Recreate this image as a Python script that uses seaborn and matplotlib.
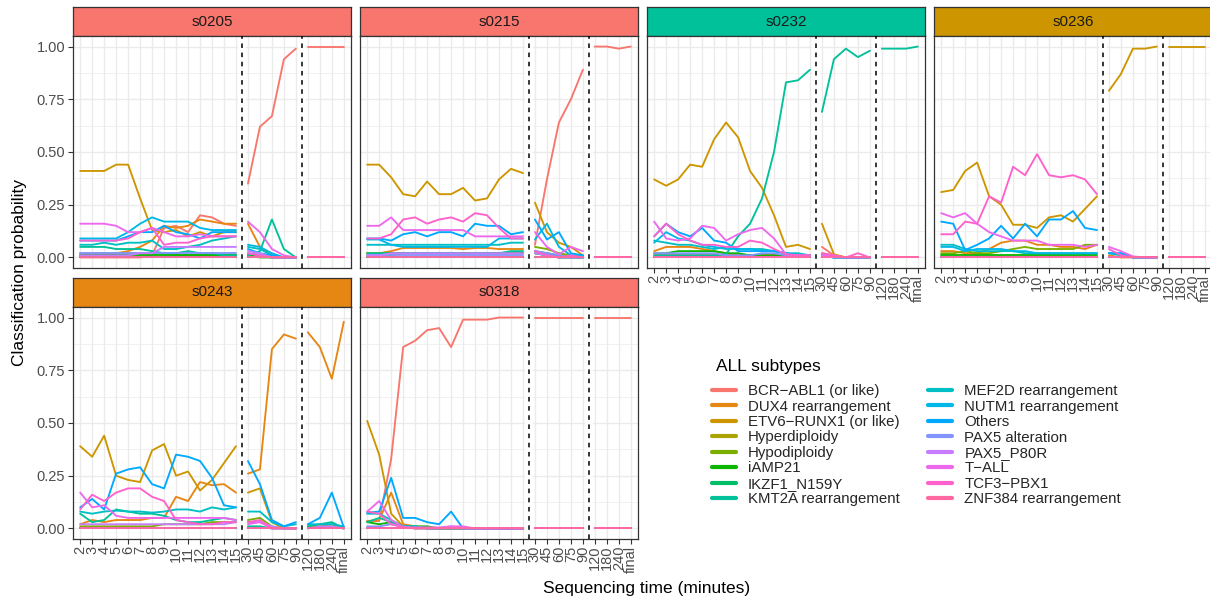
import math
import pandas as pd
import seaborn as sns
import matplotlib
matplotlib.use("Agg")
import matplotlib.pyplot as plt
from matplotlib.lines import Line2D


# data                ----------------------------------------------------------------
TIMES = ["2", "3", "4", "5", "6", "7", "8", "9", "10", "11", "12", "13", "14", "15",
         "30", "45", "60", "75", "90",
         "120", "180", "240", "final"]
SEGMENT = [0, 0, 0, 0, 0, 0, 0, 0, 0, 0, 0, 0, 0, 0,
           1, 1, 1, 1, 1,
           2, 2, 2, 2]

CODES = ["BCR", "DUX4", "ETV6", "HYPER", "HYPO", "IAMP21", "IKZF1", "KMT2A",
         "MEF2D", "NUTM1", "OTHERS", "PAX5ALT", "P80R", "TALL", "TCF3", "ZNF384"]
LABELS = ["BCR\u2212ABL1 (or like)", "DUX4 rearrangement", "ETV6\u2212RUNX1 (or like)",
          "Hyperdiploidy", "Hypodiploidy", "iAMP21", "IKZF1_N159Y", "KMT2A rearrangement",
          "MEF2D rearrangement", "NUTM1 rearrangement", "Others", "PAX5 alteration",
          "PAX5_P80R", "T\u2212ALL", "TCF3\u2212PBX1", "ZNF384 rearrangement"]

SAMPLES = ["s0205", "s0215", "s0232", "s0236", "s0243", "s0318"]
FINAL_CALL = ["BCR", "BCR", "KMT2A", "ETV6", "DUX4", "BCR"]

ZEROS = [0, 0, 0, 0, 0, 0, 0, 0, 0, 0, 0, 0, 0, 0, 0, 0, 0, 0, 0, 0, 0, 0, 0]

s0205 = {
    "BCR":    [0, 0, 0, 0, 0, 0, 0.01, 0.14, 0.15, 0.12, 0.20, 0.19, 0.16, 0.15, 0.35, 0.62, 0.67, 0.94, 0.99, 1, 1, 1, 1],
    "DUX4":   [0.01, 0.01, 0.01, 0.02, 0.03, 0.05, 0.08, 0.15, 0.14, 0.15, 0.18, 0.17, 0.16, 0.16, 0.16, 0.05, 0.01, 0, 0, 0, 0, 0, 0],
    "ETV6":   [0.41, 0.41, 0.41, 0.44, 0.44, 0.28, 0.13, 0.12, 0.13, 0.10, 0.12, 0.10, 0.12, 0.12, 0.01, 0.01, 0, 0, 0, 0, 0, 0, 0],
    "HYPO":   [0.02, 0.02, 0.02, 0.02, 0.02, 0.02, 0.02, 0.02, 0.01, 0.01, 0.01, 0.01, 0.01, 0.01, 0.01, 0.01, 0, 0, 0, 0, 0, 0, 0],
    "IAMP21": [0.01, 0.01, 0.01, 0.01, 0.01, 0.01, 0.01, 0.01, 0.01, 0.01, 0.01, 0.01, 0.01, 0.01, 0.01, 0, 0, 0, 0, 0, 0, 0, 0],
    "KMT2A":  [0.05, 0.05, 0.05, 0.04, 0.04, 0.04, 0.03, 0.02, 0.02, 0.03, 0.02, 0.02, 0.01, 0.01, 0.01, 0.03, 0.18, 0.04, 0, 0, 0, 0, 0],
    "MEF2D":  [0.06, 0.06, 0.07, 0.06, 0.07, 0.07, 0.08, 0.04, 0.04, 0.05, 0.06, 0.08, 0.09, 0.10, 0.05, 0.04, 0.01, 0, 0, 0, 0, 0, 0],
    "NUTM1":  [0.09, 0.09, 0.09, 0.09, 0.12, 0.16, 0.19, 0.17, 0.17, 0.17, 0.14, 0.13, 0.13, 0.13, 0.06, 0.05, 0.02, 0, 0, 0, 0, 0, 0],
    "OTHERS": [0.08, 0.08, 0.08, 0.08, 0.10, 0.12, 0.12, 0.15, 0.12, 0.11, 0.09, 0.12, 0.12, 0.12, 0.04, 0.02, 0.01, 0, 0, 0, 0, 0, 0],
    "PAX5ALT": [0.02, 0.02, 0.02, 0.02, 0.02, 0.02, 0.02, 0.02, 0.02, 0.02, 0.02, 0.02, 0.02, 0.02, 0.02, 0.01, 0, 0, 0, 0, 0, 0, 0],
    "P80R":   [0.01, 0.01, 0.01, 0.01, 0.01, 0.02, 0.02, 0.05, 0.05, 0.05, 0.05, 0.05, 0.05, 0.05, 0.03, 0.02, 0, 0, 0, 0, 0, 0, 0],
    "TALL":   [0.16, 0.16, 0.16, 0.15, 0.12, 0.12, 0.14, 0.12, 0.10, 0.10, 0.11, 0.10, 0.10, 0.10, 0.17, 0.12, 0.04, 0.01, 0, 0, 0, 0, 0],
    "TCF3":   [0.08, 0.08, 0.08, 0.08, 0.09, 0.12, 0.14, 0.06, 0.07, 0.07, 0.09, 0.10, 0.10, 0.10, 0.02, 0.01, 0, 0, 0, 0, 0, 0, 0],
}

s0215 = {
    "BCR":    [0, 0, 0, 0, 0, 0, 0, 0, 0, 0, 0, 0, 0, 0, 0.06, 0.37, 0.64, 0.75, 0.89, 1.0, 1.0, 0.99, 1.0],
    "DUX4":   [0.02, 0.02, 0.03, 0.045, 0.045, 0.045, 0.045, 0.045, 0.04, 0.045, 0.045, 0.04, 0.04, 0.04, 0.03, 0.02, 0.01, 0.01, 0, 0, 0, 0, 0],
    "ETV6":   [0.44, 0.44, 0.38, 0.30, 0.29, 0.36, 0.30, 0.30, 0.33, 0.27, 0.28, 0.37, 0.42, 0.40, 0.26, 0.12, 0.07, 0.05, 0.01, 0, 0, 0, 0],
    "HYPO":   [0.02, 0.02, 0.02, 0.02, 0.02, 0.02, 0.02, 0.02, 0.02, 0.02, 0.02, 0.02, 0.02, 0.02, 0.05, 0.04, 0.02, 0.01, 0, 0, 0, 0, 0],
    "IAMP21": [0.01, 0.01, 0.01, 0.02, 0.02, 0.02, 0.02, 0.02, 0.02, 0.02, 0.02, 0.02, 0.02, 0.02, 0.02, 0.01, 0, 0, 0, 0, 0, 0, 0],
    "KMT2A":  [0.02, 0.02, 0.02, 0.02, 0.02, 0.02, 0.02, 0.02, 0.02, 0.02, 0.02, 0.02, 0.03, 0.03, 0.02, 0.01, 0, 0, 0, 0, 0, 0, 0],
    "MEF2D":  [0.06, 0.06, 0.06, 0.06, 0.06, 0.06, 0.06, 0.06, 0.06, 0.06, 0.06, 0.06, 0.07, 0.07, 0.03, 0.02, 0.01, 0, 0, 0, 0, 0, 0],
    "NUTM1":  [0.085, 0.085, 0.06, 0.05, 0.05, 0.05, 0.05, 0.05, 0.05, 0.05, 0.05, 0.09, 0.09, 0.09, 0.085, 0.16, 0.05, 0.01, 0.01, 0, 0, 0, 0],
    "OTHERS": [0.09, 0.09, 0.08, 0.11, 0.12, 0.10, 0.12, 0.12, 0.10, 0.16, 0.15, 0.15, 0.11, 0.12, 0.18, 0.085, 0.12, 0.02, 0.01, 0, 0, 0, 0],
    "PAX5ALT": [0.01, 0.01, 0.01, 0.01, 0.01, 0.01, 0.01, 0.01, 0.01, 0.01, 0.01, 0.01, 0.01, 0.01, 0.03, 0.02, 0.01, 0, 0, 0, 0, 0, 0],
    "P80R":   [0.01, 0.01, 0.02, 0.02, 0.02, 0.02, 0.02, 0.02, 0.02, 0.02, 0.02, 0.02, 0.02, 0.02, 0.02, 0.01, 0, 0, 0, 0, 0, 0, 0],
    "TALL":   [0.15, 0.15, 0.19, 0.13, 0.13, 0.13, 0.13, 0.13, 0.13, 0.10, 0.10, 0.10, 0.10, 0.10, 0.12, 0.05, 0.015, 0.05, 0.03, 0, 0, 0, 0],
    "TCF3":   [0.09, 0.09, 0.11, 0.18, 0.19, 0.16, 0.18, 0.19, 0.17, 0.21, 0.20, 0.14, 0.09, 0.09, 0.03, 0.01, 0, 0.01, 0, 0, 0, 0, 0],
}

s0232 = {
    "BCR":    [0.01, 0.01, 0.01, 0.01, 0.01, 0.01, 0.01, 0.01, 0.01, 0.01, 0.01, 0.01, 0.01, 0.01, 0.05, 0.01, 0, 0, 0, 0, 0, 0, 0],
    "DUX4":   [0.03, 0.05, 0.05, 0.05, 0.04, 0.03, 0.02, 0.01, 0.01, 0.01, 0.01, 0.01, 0.01, 0.01, 0.02, 0.01, 0, 0, 0, 0, 0, 0, 0],
    "ETV6":   [0.37, 0.34, 0.37, 0.44, 0.43, 0.56, 0.64, 0.57, 0.41, 0.33, 0.20, 0.05, 0.06, 0.04, 0.16, 0.015, 0, 0, 0, 0, 0, 0, 0],
    "IAMP21": [0.02, 0.02, 0.03, 0.03, 0.03, 0.03, 0.02, 0.02, 0.01, 0.01, 0.01, 0.01, 0.01, 0.01, 0.01, 0, 0, 0, 0, 0, 0, 0, 0],
    "KMT2A":  [0.01, 0.01, 0.01, 0.01, 0.01, 0.01, 0.015, 0.10, 0.16, 0.28, 0.50, 0.83, 0.84, 0.89, 0.69, 0.94, 0.99, 0.95, 0.98, 0.99, 0.99, 0.99, 1.0],
    "MEF2D":  [0.08, 0.07, 0.06, 0.06, 0.05, 0.04, 0.05, 0.04, 0.04, 0.04, 0.03, 0.02, 0.02, 0.01, 0.01, 0, 0, 0, 0, 0, 0, 0, 0],
    "NUTM1":  [0.07, 0.12, 0.09, 0.08, 0.06, 0.05, 0.04, 0.04, 0.04, 0.03, 0.03, 0.02, 0.01, 0.01, 0.01, 0, 0, 0, 0, 0, 0, 0, 0],
    "OTHERS": [0.10, 0.16, 0.12, 0.10, 0.14, 0.08, 0.07, 0.03, 0.03, 0.03, 0.03, 0.02, 0.01, 0.01, 0.01, 0, 0, 0, 0, 0, 0, 0, 0],
    "PAX5ALT": [0.02, 0.02, 0.02, 0.02, 0.02, 0.02, 0.01, 0.01, 0.01, 0.02, 0.02, 0.01, 0.01, 0.01, 0.01, 0, 0, 0, 0, 0, 0, 0, 0],
    "TALL":   [0.17, 0.09, 0.08, 0.09, 0.15, 0.14, 0.08, 0.11, 0.13, 0.14, 0.09, 0.015, 0.01, 0.01, 0.01, 0.01, 0, 0, 0, 0, 0, 0, 0],
    "TCF3":   [0.10, 0.16, 0.11, 0.08, 0.06, 0.06, 0.05, 0.05, 0.08, 0.07, 0.04, 0.015, 0.01, 0.01, 0.02, 0.01, 0, 0.02, 0, 0, 0, 0, 0],
}

s0236 = {
    "DUX4":   [0.03, 0.03, 0.02, 0.02, 0.04, 0.07, 0.08, 0.08, 0.06, 0.06, 0.05, 0.05, 0.04, 0.06, 0.01, 0, 0, 0, 0, 0, 0, 0, 0],
    "ETV6":   [0.31, 0.32, 0.41, 0.45, 0.29, 0.25, 0.155, 0.155, 0.14, 0.19, 0.20, 0.17, 0.23, 0.29, 0.79, 0.87, 0.99, 0.99, 1.0, 1.0, 1.0, 1.0, 1.0],
    "HYPO":   [0.02, 0.02, 0.03, 0.02, 0.02, 0.03, 0.04, 0.05, 0.04, 0.04, 0.04, 0.04, 0.06, 0.06, 0, 0, 0, 0, 0, 0, 0, 0, 0],
    "IAMP21": [0.01, 0.01, 0.01, 0.01, 0.01, 0.01, 0.01, 0.01, 0.01, 0.01, 0.01, 0.01, 0.01, 0.01, 0, 0, 0, 0, 0, 0, 0, 0, 0],
    "MEF2D":  [0.06, 0.06, 0.04, 0.03, 0.03, 0.03, 0.03, 0.02, 0.02, 0.02, 0.02, 0.02, 0.02, 0.02, 0.02, 0.01, 0, 0, 0, 0, 0, 0, 0],
    "NUTM1":  [0.05, 0.05, 0.03, 0.04, 0.04, 0.04, 0.03, 0.03, 0.02, 0.02, 0.02, 0.02, 0.02, 0.02, 0.02, 0.02, 0, 0, 0, 0, 0, 0, 0],
    "OTHERS": [0.17, 0.16, 0.035, 0.06, 0.09, 0.15, 0.09, 0.16, 0.10, 0.18, 0.18, 0.22, 0.14, 0.13, 0.02, 0.02, 0, 0, 0, 0, 0, 0, 0],
    "TALL":   [0.21, 0.19, 0.21, 0.16, 0.12, 0.10, 0.08, 0.08, 0.08, 0.06, 0.06, 0.06, 0.05, 0.06, 0.05, 0.03, 0.005, 0, 0, 0, 0, 0, 0],
    "TCF3":   [0.11, 0.11, 0.17, 0.16, 0.29, 0.26, 0.43, 0.39, 0.49, 0.39, 0.38, 0.39, 0.37, 0.30, 0.04, 0.01, 0, 0, 0, 0, 0, 0, 0],
}

s0243 = {
    "DUX4":   [0.02, 0.04, 0.03, 0.04, 0.04, 0.04, 0.05, 0.05, 0.15, 0.13, 0.22, 0.205, 0.21, 0.17, 0.26, 0.28, 0.85, 0.92, 0.90, 0.93, 0.86, 0.71, 0.98],
    "ETV6":   [0.39, 0.34, 0.44, 0.25, 0.23, 0.22, 0.37, 0.40, 0.25, 0.27, 0.18, 0.23, 0.31, 0.39, 0.17, 0.19, 0.03, 0, 0, 0.01, 0.01, 0.01, 0],
    "HYPO":   [0.01, 0.01, 0.01, 0.01, 0.01, 0.01, 0.01, 0.02, 0.02, 0.02, 0.02, 0.03, 0.03, 0.03, 0.04, 0.05, 0.01, 0, 0, 0.01, 0.01, 0.02, 0],
    "KMT2A":  [0.07, 0.03, 0.04, 0.09, 0.08, 0.07, 0.07, 0.06, 0.04, 0.03, 0.03, 0.04, 0.05, 0.04, 0.01, 0.01, 0, 0, 0, 0.01, 0.02, 0.03, 0],
    "MEF2D":  [0.08, 0.07, 0.08, 0.085, 0.08, 0.08, 0.075, 0.08, 0.09, 0.09, 0.08, 0.10, 0.09, 0.10, 0.08, 0.08, 0.03, 0.01, 0.02, 0.02, 0.02, 0.02, 0.01],
    "OTHERS": [0.10, 0.14, 0.09, 0.26, 0.28, 0.29, 0.21, 0.19, 0.35, 0.34, 0.32, 0.24, 0.11, 0.10, 0.32, 0.21, 0.04, 0.01, 0.03, 0.02, 0.05, 0.17, 0.005],
    "P80R":   [0.02, 0.02, 0.02, 0.02, 0.02, 0.02, 0.02, 0.02, 0.02, 0.02, 0.02, 0.02, 0.02, 0.03, 0.03, 0.03, 0.01, 0, 0, 0, 0.01, 0.01, 0],
    "TALL":   [0.17, 0.10, 0.11, 0.06, 0.05, 0.05, 0.05, 0.05, 0.05, 0.05, 0.05, 0.05, 0.05, 0.04, 0.02, 0.03, 0, 0, 0, 0, 0, 0, 0],
    "TCF3":   [0.09, 0.16, 0.13, 0.17, 0.19, 0.19, 0.15, 0.13, 0.04, 0.03, 0.02, 0.02, 0.03, 0.03, 0.03, 0.04, 0, 0, 0, 0, 0, 0, 0],
}

s0318 = {
    "BCR":    [0.035, 0.035, 0.33, 0.86, 0.89, 0.94, 0.95, 0.86, 0.99, 0.99, 0.99, 1.0, 1.0, 1.0, 1.0, 1.0, 1.0, 1.0, 1.0, 1.0, 1.0, 1.0, 1.0],
    "DUX4":   [0.035, 0.04, 0.17, 0.02, 0.01, 0, 0, 0, 0, 0, 0, 0, 0, 0, 0, 0, 0, 0, 0, 0, 0, 0, 0],
    "ETV6":   [0.51, 0.35, 0.07, 0.01, 0, 0, 0, 0, 0, 0, 0, 0, 0, 0, 0, 0, 0, 0, 0, 0, 0, 0, 0],
    "IAMP21": [0.03, 0.02, 0.03, 0.01, 0.01, 0.01, 0, 0, 0, 0, 0, 0, 0, 0, 0, 0, 0, 0, 0, 0, 0, 0, 0],
    "KMT2A":  [0.03, 0.05, 0.03, 0.01, 0.01, 0, 0, 0, 0, 0, 0, 0, 0, 0, 0, 0, 0, 0, 0, 0, 0, 0, 0],
    "MEF2D":  [0.07, 0.07, 0.04, 0.01, 0.01, 0, 0, 0, 0, 0, 0, 0, 0, 0, 0, 0, 0, 0, 0, 0, 0, 0, 0],
    "OTHERS": [0.075, 0.08, 0.24, 0.05, 0.05, 0.03, 0.02, 0.08, 0, 0, 0, 0, 0, 0, 0, 0, 0, 0, 0, 0, 0, 0, 0],
    "PAX5ALT": [0.01, 0.01, 0.02, 0.01, 0, 0, 0, 0.01, 0, 0, 0, 0, 0, 0, 0, 0, 0, 0, 0, 0, 0, 0, 0],
    "TALL":   [0.08, 0.13, 0.04, 0.006, 0.005, 0.005, 0.005, 0.01, 0.01, 0, 0, 0, 0, 0, 0, 0, 0, 0, 0, 0, 0, 0, 0],
    "TCF3":   [0.08, 0.07, 0.02, 0.005, 0, 0, 0, 0, 0, 0, 0, 0, 0, 0, 0, 0, 0, 0, 0, 0, 0, 0, 0],
}

SAMPLE_DATA = [s0205, s0215, s0232, s0236, s0243, s0318]


# colours: ggplot2 default hue palette (hcl, c=100, l=65) ---------------------------
def hcl_hex(h, c=100.0, l=65.0):
    xn, yn, zn = 95.047, 100.0, 108.883
    hr = math.radians(h)
    big_u, big_v = c * math.cos(hr), c * math.sin(hr)
    y = yn * ((l + 16) / 116) ** 3
    denom = xn + 15 * yn + 3 * zn
    un, vn = 4 * xn / denom, 9 * yn / denom
    uu = big_u / (13 * l) + un
    vv = big_v / (13 * l) + vn
    x = 9.0 * y * uu / (4 * vv)
    z = -x / 3 - 5 * y + 3 * y / vv
    x, y, z = x / 100, y / 100, z / 100
    lin = (3.240479 * x - 1.537150 * y - 0.498535 * z,
           -0.969256 * x + 1.875992 * y + 0.041556 * z,
           0.055648 * x - 0.204043 * y + 1.057311 * z)

    def gam(t):
        return 1.055 * t ** (1 / 2.4) - 0.055 if t > 0.0031308 else 12.92 * t

    out = [min(1.0, max(0.0, gam(ch))) for ch in lin]
    return "#%02X%02X%02X" % tuple(int(round(255 * v)) for v in out)


HUES = [15 + 22.5 * k for k in range(len(CODES))]
COLORS = [hcl_hex(h) for h in HUES]
PALETTE = dict(zip(LABELS, COLORS))
CODE_COLOR = dict(zip(CODES, COLORS))

# long table
rows = []
for sample, data in zip(SAMPLES, SAMPLE_DATA):
    for code, label in zip(CODES, LABELS):
        vals = data.get(code, ZEROS)
        for pos, (t, seg, v) in enumerate(zip(TIMES, SEGMENT, vals)):
            rows.append({"sample": sample, "subtype": label, "pos": pos,
                         "time": t, "segment": seg, "prob": v})
df = pd.DataFrame(rows)


# plot                ----------------------------------------------------------------
sns.set_style("white")
plt.rcParams["font.family"] = ["Liberation Sans", "DejaVu Sans"]

W, H = 1210, 598
fig = plt.figure(figsize=(W / 100, H / 100), dpi=100)


def fbox(l, t, r, b):
    return [l / W, 1 - b / H, (r - l) / W, (b - t) / H]


COL_LEFT = [73, 360, 647, 934]
ROW_TOP = [7, 278]
PANEL_W, STRIP_H, PANEL_H = 278, 29, 232
BORDER = "#333333"
GRID = "#EBEBEB"

for k, (sample, final) in enumerate(zip(SAMPLES, FINAL_CALL)):
    r, c = divmod(k, 4)
    l, t = COL_LEFT[c], ROW_TOP[r]

    # strip
    sax = fig.add_axes(fbox(l, t, l + PANEL_W, t + STRIP_H))
    sax.set_facecolor(CODE_COLOR[final])
    sax.set_xticks([])
    sax.set_yticks([])
    for sp in sax.spines.values():
        sp.set_visible(True)
        sp.set_color(BORDER)
        sp.set_linewidth(0.9)
    sax.text(0.5, 0.5, sample, transform=sax.transAxes, ha="center", va="center",
             fontsize=11, color="#1A1A1A")

    # panel
    ax = fig.add_axes(fbox(l, t + STRIP_H, l + PANEL_W, t + STRIP_H + PANEL_H))
    sns.lineplot(
        data=df[df["sample"] == sample],
        x="pos", y="prob",
        hue="subtype", hue_order=LABELS, palette=PALETTE,
        units="segment", estimator=None, sort=False,
        linewidth=1.35, legend=False, ax=ax,
    )
    ax.set_xlim(-0.6, len(TIMES) - 0.4)
    ax.set_ylim(-0.05, 1.05)
    ax.set_xlabel("")
    ax.set_ylabel("")

    ax.set_xticks(range(len(TIMES)))
    ax.set_yticks([0, 0.25, 0.5, 0.75, 1.0])
    ax.set_yticks([0.125, 0.375, 0.625, 0.875], minor=True)
    ax.set_axisbelow(True)
    ax.grid(True, which="major", color=GRID, linewidth=1.0)
    ax.grid(True, which="minor", axis="y", color=GRID, linewidth=0.5)

    # section separators
    for xv in (13.5, 18.5):
        ax.axvline(xv, color="white", linewidth=5.5, zorder=1.5)
        ax.axvline(xv, color="black", linewidth=1.1, linestyle=(0, (3, 3)), zorder=3)

    for sp in ax.spines.values():
        sp.set_visible(True)
        sp.set_color(BORDER)
        sp.set_linewidth(0.9)

    show_x = (r == 1) or (c >= 2)
    show_y = (c == 0)
    ax.tick_params(axis="x", which="major", bottom=show_x, labelbottom=show_x,
                   length=3.5, width=0.8, color=BORDER, labelsize=10.5,
                   labelcolor="#4D4D4D", pad=1.5)
    ax.tick_params(axis="y", which="major", left=show_y, labelleft=show_y,
                   length=3.5, width=0.8, color=BORDER, labelsize=10.5,
                   labelcolor="#4D4D4D", pad=2)
    ax.tick_params(axis="both", which="minor", length=0)
    if show_x:
        ax.set_xticklabels(TIMES, rotation=90, va="top", ha="center")
    if show_y:
        ax.set_yticklabels(["0.00", "0.25", "0.50", "0.75", "1.00"])

# axis titles
fig.text(647 / W, 1 - 588 / H, "Sequencing time (minutes)", ha="center", va="center",
         fontsize=12.5, color="black")
fig.text(20 / W, 1 - 273 / H, "Classification probability", ha="center", va="center",
         rotation=90, fontsize=12.5, color="black")

# legend
fig.text(716 / W, 1 - 367 / H, "ALL subtypes", ha="left", va="center",
         fontsize=12.5, color="black")
handles = [Line2D([], [], color=col, linewidth=3.0) for col in COLORS]
fig.legend(
    handles, LABELS, ncol=2,
    loc="upper left", bbox_to_anchor=(712 / W, 1 - 384 / H),
    frameon=False, fontsize=10.8,
    handlelength=1.6, handletextpad=0.8, columnspacing=1.9,
    labelspacing=0.1, borderpad=0, borderaxespad=0,
)

fig.savefig("out.png", dpi=100)
